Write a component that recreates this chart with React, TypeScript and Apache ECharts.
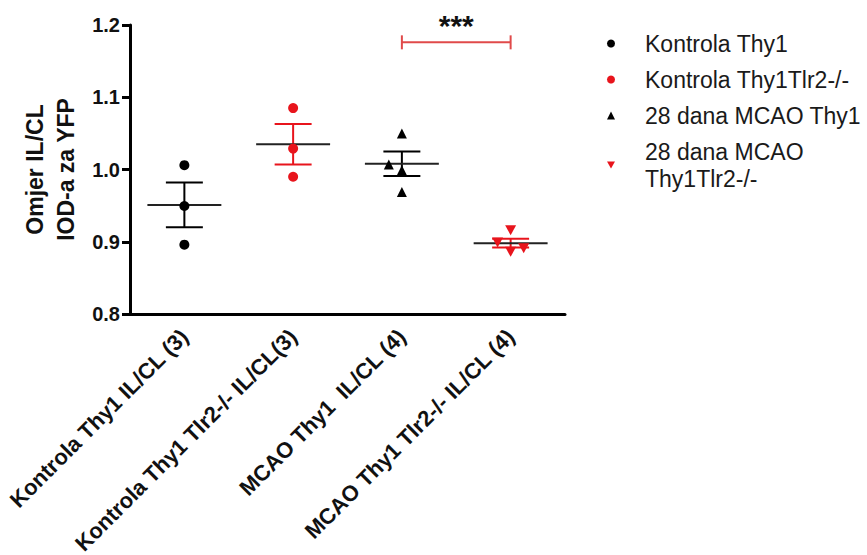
import React, { useEffect, useRef } from "react";
import * as echarts from "echarts";

// ---- data ----
const categories = [
  "Kontrola Thy1 IL/CL (3)",
  "Kontrola Thy1 Tlr2-/- IL/CL(3)",
  "MCAO Thy1  IL/CL (4)",
  "MCAO Thy1 Tlr2-/- IL/CL (4)",
];
const seriesNames = [
  "Kontrola Thy1",
  "Kontrola Thy1Tlr2-/-",
  "28 dana MCAO Thy1",
  "28 dana MCAO Thy1Tlr2-/-",
];
const kontrolaThy1 = [1.006, 0.9495, 0.896];
const kontrolaThy1Tlr2 = [1.085, 1.029, 0.99];
const mcaoThy1 = [1.05, 1.007, 0.999, 0.969];
const mcaoThy1Tlr2 = [0.916, 0.899, 0.886, 0.891];
// horizontal scatter offsets of the points (fraction of a category band)
const jitterThy1 = [0, 0, 0];
const jitterThy1Tlr2 = [0, 0, 0];
const jitterMcaoThy1 = [0, -0.12, 0, 0];
const jitterMcaoThy1Tlr2 = [0, -0.12, 0, 0.12];
const means = [0.951, 1.035, 1.008, 0.898];
const sems = [0.031, 0.028, 0.017, 0.006];
const yTicks = [0.8, 0.9, 1.0, 1.1, 1.2];
const sigPair = [2, 3];
const sigLevel = 1.176;
const sigLabel = "***";

const RED = "#e8141c";
const BLACK = "#000000";
const groupColors = [BLACK, RED, BLACK, RED];
const FONT = "'Liberation Sans', Arial, Helvetica, sans-serif";
const DOWN_TRI = "path://M0,0 L10,0 L5,9 Z";

function pts(vals: number[], jit: number[], idx: number) {
  return vals.map((v, k) => [idx + jit[k], v]);
}

export default function App() {
  const ref = useRef<HTMLDivElement>(null);
  useEffect(() => {
    if (!ref.current) return;
    const chart = echarts.init(ref.current, undefined, { renderer: "svg" });
    const option: any = {
      animation: false,
      backgroundColor: "#ffffff",
      textStyle: { fontFamily: FONT },
      grid: {
        left: 130,
        top: 25,
        right: 302,
        bottom: 241,
        containLabel: false,
        outerBoundsMode: "none",
      },
      legend: {
        orient: "vertical",
        left: 607,
        top: 30,
        padding: 0,
        itemWidth: 8,
        itemHeight: 8,
        itemGap: 9,
        data: seriesNames,
        formatter: (name: string) =>
          name === seriesNames[3] ? "28 dana MCAO\nThy1Tlr2-/-" : name,
        textStyle: {
          fontFamily: FONT,
          fontSize: 23,
          lineHeight: 27,
          color: "#1a1a1a",
          padding: [0, 0, 0, 25],
        },
      },
      xAxis: [
        {
          type: "category",
          data: categories,
          boundaryGap: true,
          axisLine: { onZero: false, lineStyle: { color: BLACK, width: 3 } },
          axisTick: {
            alignWithLabel: true,
            length: 9,
            lineStyle: { color: BLACK, width: 3 },
          },
          axisLabel: {
            rotate: 45,
            margin: 19,
            fontFamily: FONT,
            fontWeight: "bold",
            fontSize: 22,
            color: "#111",
            interval: 0,
          },
          splitLine: { show: false },
        },
        {
          type: "value",
          min: -0.5,
          max: 3.5,
          show: false,
        },
      ],
      yAxis: {
        type: "value",
        min: yTicks[0],
        max: yTicks[yTicks.length - 1],
        interval: 0.1,
        name: "Omjer IL/CL\nIOD-a za YFP",
        nameLocation: "middle",
        nameRotate: 90,
        nameGap: 46,
        nameTextStyle: {
          fontFamily: FONT,
          fontWeight: "bold",
          fontSize: 23,
          lineHeight: 31,
          color: "#111",
        },
        axisLine: {
          show: true,
          onZero: false,
          lineStyle: { color: BLACK, width: 3 },
        },
        axisTick: { show: true, length: 8, lineStyle: { color: BLACK, width: 3 } },
        axisLabel: {
          margin: 10,
          fontFamily: FONT,
          fontWeight: "bold",
          fontSize: 20,
          color: "#111",
          formatter: (v: number) => v.toFixed(1),
        },
        splitLine: { show: false },
      },
      series: [
        {
          type: "custom",
          name: "meanSem",
          xAxisIndex: 1,
          z: 1,
          silent: true,
          data: means.map((m, i) => [i, m, sems[i]]),
          renderItem: (params: any, api: any) => {
            const i = api.value(0);
            const m = api.value(1);
            const s = api.value(2);
            const c = api.coord([i, m]);
            const t = api.coord([i, m + s]);
            const b = api.coord([i, m - s]);
            const band = api.size([1, 0])[0];
            const mh = band * 0.34;
            const ch = band * 0.17;
            const col = groupColors[i];
            return {
              type: "group",
              children: [
                {
                  type: "line",
                  shape: { x1: t[0], y1: t[1], x2: b[0], y2: b[1] },
                  style: { stroke: col, lineWidth: 2 },
                },
                {
                  type: "line",
                  shape: { x1: t[0] - ch, y1: t[1], x2: t[0] + ch, y2: t[1] },
                  style: { stroke: col, lineWidth: 2 },
                },
                {
                  type: "line",
                  shape: { x1: b[0] - ch, y1: b[1], x2: b[0] + ch, y2: b[1] },
                  style: { stroke: col, lineWidth: 2 },
                },
                {
                  type: "line",
                  shape: { x1: c[0] - mh, y1: c[1], x2: c[0] + mh, y2: c[1] },
                  style: { stroke: "#222", lineWidth: 2 },
                },
              ],
            };
          },
        },
        {
          type: "custom",
          name: "significance",
          xAxisIndex: 1,
          z: 1,
          silent: true,
          clip: false,
          data: [[sigPair[0], sigPair[1], sigLevel]],
          renderItem: (params: any, api: any) => {
            const p1 = api.coord([api.value(0), api.value(2)]);
            const p2 = api.coord([api.value(1), api.value(2)]);
            const col = "#e04a4a";
            return {
              type: "group",
              children: [
                {
                  type: "line",
                  shape: { x1: p1[0], y1: p1[1], x2: p2[0], y2: p2[1] },
                  style: { stroke: col, lineWidth: 2 },
                },
                {
                  type: "line",
                  shape: { x1: p1[0], y1: p1[1] - 7, x2: p1[0], y2: p1[1] + 7 },
                  style: { stroke: col, lineWidth: 2 },
                },
                {
                  type: "line",
                  shape: { x1: p2[0], y1: p2[1] - 7, x2: p2[0], y2: p2[1] + 7 },
                  style: { stroke: col, lineWidth: 2 },
                },
                {
                  type: "text",
                  x: (p1[0] + p2[0]) / 2,
                  y: p1[1] - 17,
                  style: {
                    text: sigLabel,
                    fill: "#111",
                    font: `bold 30px ${FONT}`,
                    align: "center",
                    verticalAlign: "middle",
                  },
                },
              ],
            };
          },
        },
        {
          type: "scatter",
          name: seriesNames[0],
          xAxisIndex: 1,
          z: 3,
          symbol: "circle",
          symbolSize: 10,
          itemStyle: { color: BLACK, opacity: 1 },
          data: pts(kontrolaThy1, jitterThy1, 0),
        },
        {
          type: "scatter",
          name: seriesNames[1],
          xAxisIndex: 1,
          z: 3,
          symbol: "circle",
          symbolSize: 10,
          itemStyle: { color: RED, opacity: 1 },
          data: pts(kontrolaThy1Tlr2, jitterThy1Tlr2, 1),
        },
        {
          type: "scatter",
          name: seriesNames[2],
          xAxisIndex: 1,
          z: 3,
          symbol: "triangle",
          symbolSize: 10,
          itemStyle: { color: BLACK, opacity: 1 },
          data: pts(mcaoThy1, jitterMcaoThy1, 2),
        },
        {
          type: "scatter",
          name: seriesNames[3],
          xAxisIndex: 1,
          z: 3,
          symbol: DOWN_TRI,
          symbolSize: [11, 10],
          itemStyle: { color: RED, opacity: 1 },
          data: pts(mcaoThy1Tlr2, jitterMcaoThy1Tlr2, 3),
        },
      ],
    };
    chart.setOption(option);
    return () => chart.dispose();
  }, []);
  return (
    <div
      ref={ref}
      style={{
        position: "fixed",
        left: 0,
        top: 0,
        width: 867,
        height: 555,
        background: "#fff",
      }}
    />
  );
}
